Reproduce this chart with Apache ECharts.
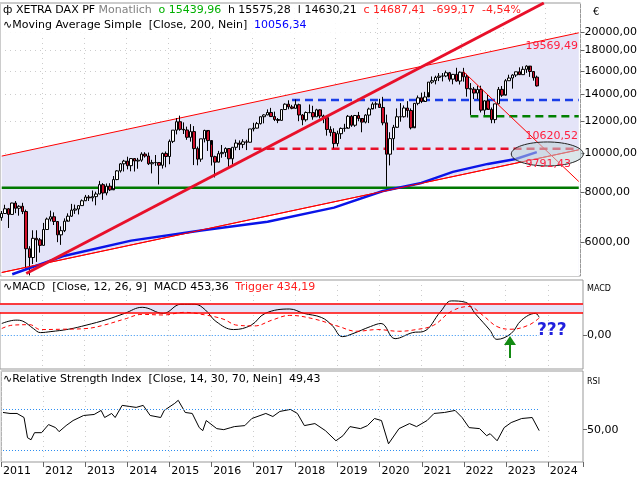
<!DOCTYPE html>
<html lang="de">
<head>
<meta charset="UTF-8">
<title>DAX</title>
<script src="https://cdn.jsdelivr.net/npm/echarts@6/dist/echarts.min.js"></script>
<style>html,body{margin:0;background:#fff}#main{width:640px;height:480px}</style>
</head>
<body>
<div id="main"></div>
<script>
// monthly closes Jan 2011 .. Oct 2023
var closes = [
 7077,7272,7041,7514,7293,7376,7159,5785,5502,6141,6089,5898,
 6458,6856,6947,6761,6264,6416,6772,6970,7216,7261,7405,7612,
 7776,7741,7795,7914,8348,7959,8276,8103,8594,9033,9405,9552,
 9306,9692,9556,9603,9943,9833,9407,9470,9474,9326,9981,9806,
 10694,11402,11966,11454,11414,10945,11309,10259,9660,10850,11382,10743,
 9798,9495,9966,10039,10263,9680,10337,10593,10511,10665,10640,11481,
 11535,11834,12313,12438,12615,12325,12118,12056,12829,13230,13024,12918,
 13189,12436,12097,12612,12605,12306,12806,12364,12247,11447,11257,10559,
 11173,11516,11526,12344,11727,12399,12189,11939,12428,12867,13236,13249,
 12982,11890,9936,10862,11587,12311,12313,12945,12761,11556,13291,13719,
 13433,13786,15008,15136,15421,15531,15544,15835,15261,15688,15100,15885,
 15471,14461,14415,14098,14388,12784,13484,12835,12114,13253,14397,13924,
 15128,15365,15629,15922,15664,16148,16447,15947,15387,14687
];
var highs = [
 7180,7441,7305,7527,7600,7421,7524,7237,5871,6430,6430,6154,
 6708,6914,7194,7125,6764,6574,6882,7084,7478,7447,7412,7672,
 7871,7864,8074,8018,8530,8420,8403,8416,8770,9070,9438,9620,
 9794,9721,9709,9728,10050,10050,10033,9623,9891,9436,10031,10093,
 10810,11402,12219,12391,11920,11634,11802,11670,10380,10850,11430,11300,
 10486,9850,10128,10474,10335,10286,10337,10802,10755,10827,10791,11481,
 11893,11950,12313,12486,12841,12951,12676,12222,12829,13290,13526,13178,
 13597,13264,12502,12689,13205,13107,12886,12845,12458,12390,11658,11525,
 11369,11575,11823,12436,12435,12438,12656,11986,12494,12969,13374,13426,
 13640,13795,12461,11267,11750,12913,13313,13136,13460,12911,13308,13903,
 14131,14197,15008,15502,15568,15803,15810,16030,15912,15725,16290,15953,
 16285,15736,14925,14593,14713,14703,13532,13947,12978,13253,14598,14675,
 15269,15658,15706,15922,16331,16427,16528,16080,15989,15575
];
var lows = [
 6792,7064,6515,7038,7092,6990,7053,5164,4966,5303,5366,5659,
 5900,6464,6766,6627,6007,5915,6363,6831,6938,7063,7039,7405,
 7632,7603,7582,7418,7902,7656,7851,8049,8180,8565,8947,9000,
 9111,9010,9000,9143,9510,9745,9340,8903,9294,8354,9152,9219,
 9382,10590,11129,11366,11154,10789,10676,9338,9325,9512,10631,10123,
 9314,8699,9517,9737,9780,9214,9373,10163,10175,10287,10174,10618,
 11322,11509,11777,11855,12422,12358,12010,11869,12053,12800,12846,12851,
 12905,12002,11727,11975,12558,12104,12310,12195,11865,11051,11009,10279,
 10387,10845,11299,11604,11620,11620,11997,11266,11850,11873,12930,12888,
 12948,11724,8256,9319,10160,11629,11968,12254,12254,11450,11651,13150,
 13310,13529,14162,14867,14816,15097,15070,15440,15059,14819,15046,14800,
 15048,13807,12439,13617,13617,12618,12443,12949,11862,11864,13218,13791,
 13990,15136,14458,15450,15630,15655,15820,15468,15134,14630
];
var firstOpen = 6914;
var lastOpen = 15439.96;

// moving average 200 [monthIndex, value]
var ma200 = [[3,5000],[18,5560],[37,6060],[57,6420],[76,6750],[95,7320],[109,8050],[120,8430],[129,8980],[139,9400],[147,9670],[153,10056]];
// drawn lines [monthIndex, value]
var channelUpper = [[0,9830],[165,19900]];
var channelLower = [[0,5050],[165,10190]];
var trendUp = [[7,5020],[155,23600]];
var trendDown = [[132,15940],[165,8500]];
var levelBlue = 13550, levelBlueFrom = 83;
var levelGreenDash = 12350, levelGreenDashFrom = 134;
var levelRed = 10250, levelRedFrom = 72;
var levelGreen = 8200;
var ellipseCenter = [[155.5, 9950]];

var macd = [[0,300],[4,383],[6,357],[9,175],[11,75],[14,100],[19,158],[24,258],[30,400],[35,550],[40,700],[46,550],[51,775],[55,775],[58,633],[61,350],[66,150],[71,258],[75,550],[82,658],[86,550],[91,450],[94,258],[97,-25],[100,50],[105,225],[108,300],[112,-75],[117,75],[120,100],[125,600],[128,858],[132,825],[135,525],[139,133],[141,-92],[145,50],[148,383],[152,550],[153,453]];
var trigger = [[0,175],[3,258],[8,270],[11,150],[17,158],[24,175],[29,258],[35,410],[40,525],[46,510],[52,575],[58,510],[63,410],[67,258],[72,240],[77,385],[82,500],[89,410],[96,225],[101,108],[107,150],[113,108],[118,150],[123,258],[128,600],[133,720],[137,500],[141,225],[145,158],[150,258],[153,434]];
var macdBand = [575, 800];

var rsi = [[0,67],[2,66],[4,66],[6,62],[7,42],[8,40],[9,47],[11,47],[13,55],[15,52],[16,48],[18,54],[20,59],[23,64],[26,65],[28,69],[29,62],[31,66],[32,62],[34,74],[36,73],[38,72],[40,74],[42,64],[45,62],[46,69],[49,76],[50,79],[52,67],[54,66],[56,52],[57,49],[58,59],[61,51],[63,50],[65,52],[66,53],[69,54],[71,61],[75,66],[77,63],[79,68],[82,70],[84,66],[86,54],[89,56],[92,49],[95,39],[97,44],[99,53],[102,51],[104,54],[106,61],[108,59],[110,36],[113,51],[116,56],[118,53],[121,59],[123,66],[126,67],[129,69],[131,62],[133,52],[136,51],[138,44],[139,46],[141,39],[143,52],[145,57],[148,61],[151,62],[153,49]];

var months = [];
for (var y = 2011; y <= 2024; y++) {
  for (var m = 1; m <= 12; m++) {
    if (y === 2024 && m > 10) break;
    months.push(y + '-' + (m < 10 ? '0' + m : m));
  }
}
var candles = [];
for (var i = 0; i < closes.length; i++) {
  var o = i === 0 ? firstOpen : (i === closes.length - 1 ? lastOpen : closes[i - 1]);
  candles.push([o, closes[i], lows[i], highs[i]]);
}
var last = closes.length - 1;

function isJan(idx) { return months[idx] && months[idx].slice(5) === '01'; }
function fmt(v) { return v.toFixed(2).replace('.', ','); }
var FONT = 'DejaVu Sans';
function xa(gi, showLabel) {
  return {
    type: 'category', gridIndex: gi, data: months, boundaryGap: true,
    axisLine: { show: false },
    axisTick: { show: showLabel, interval: function (i) { return isJan(i); }, length: 5, lineStyle: { color: '#666' } },
    axisLabel: { show: showLabel, interval: function (i) { return isJan(i); }, formatter: function (v) { return v.slice(0, 4); },
      align: 'left', color: '#000', fontFamily: FONT, fontSize: 11, margin: 4 },
    splitLine: { show: true, interval: function (i) { return isJan(i); }, lineStyle: { color: '#ccc', type: [1, 4] } }
  };
}
function lineS(name, data, xi, yi, color, width, type, extra) {
  var s = { type: 'line', name: name, data: data, xAxisIndex: xi, yAxisIndex: yi, symbol: 'none', silent: true, z: 4,
    lineStyle: { color: color, width: width, type: type || 'solid' } };
  for (var k in extra) s[k] = extra[k];
  return s;
}
function hLine(val, from, color, type, width) {
  var d = [];
  for (var i = from; i < months.length; i++) d.push([i, val]);
  return lineS('', d, 0, 0, color, width || 2, type);
}

var chart = echarts.init(document.getElementById('main'));
chart.setOption({
  animation: false,
  textStyle: { fontFamily: FONT },
  grid: [
    { left: 0, right: 57, top: 3, height: 273, show: true, borderColor: '#999', borderWidth: 1 },
    { left: 0, right: 57, top: 280, height: 89, show: true, borderColor: '#999', borderWidth: 1 },
    { left: 0, right: 57, top: 371, height: 91, show: true, borderColor: '#999', borderWidth: 1 }
  ],
  xAxis: [xa(0, false), xa(1, false), xa(2, true)],
  yAxis: [
    { type: 'log', gridIndex: 0, position: 'right', min: 4950, max: 23600, logBase: 10,
      axisLine: { show: false },
      axisTick: { show: true, customValues: [6000, 8000, 10000, 12000, 14000, 16000, 18000, 20000], length: 4, lineStyle: { color: '#666' } },
      axisLabel: { customValues: [6000, 8000, 10000, 12000, 14000, 16000, 18000, 20000], formatter: function (v) { return fmt(v); },
        color: '#000', fontFamily: FONT, fontSize: 11, margin: 4 },
      splitLine: { show: true, lineStyle: { color: '#ccc', type: [1, 4] } } },
    { type: 'value', gridIndex: 1, position: 'right', min: -825, max: 1375,
      axisLine: { show: false },
      axisTick: { show: true, customValues: [0], length: 4, lineStyle: { color: '#666' } },
      axisLabel: { customValues: [0], formatter: function (v) { return fmt(v); }, color: '#000', fontFamily: FONT, fontSize: 11, margin: 4 },
      splitLine: { show: false } },
    { type: 'value', gridIndex: 2, position: 'right', min: 18, max: 108,
      axisLine: { show: false },
      axisTick: { show: true, customValues: [50], length: 4, lineStyle: { color: '#666' } },
      axisLabel: { customValues: [50], formatter: function (v) { return fmt(v); }, color: '#000', fontFamily: FONT, fontSize: 11, margin: 4 },
      splitLine: { show: false } }
  ],
  series: [
    lineS('channelUpper', channelUpper, 0, 0, '#ff0000', 1, 'solid', { z: 1, areaStyle: { color: '#e4e4f8', opacity: 1, origin: 'start' } }),
    lineS('channelLower', channelLower, 0, 0, '#ff0000', 1, 'solid', { z: 1, areaStyle: { color: '#ffffff', opacity: 1, origin: 'start' } }),
    lineS('green', [[0, levelGreen], [months.length - 1, levelGreen]], 0, 0, '#007800', 2.5),
    hLine(levelBlue, levelBlueFrom, '#1a3ee8', [8, 5], 2.5),
    hLine(levelGreenDash, levelGreenDashFrom, '#008000', [8, 5], 2.5),
    hLine(levelRed, levelRedFrom, '#e8102a', [8, 5], 2.5),
    { type: 'candlestick', xAxisIndex: 0, yAxisIndex: 0, data: candles, barWidth: 3, silent: true, z: 5,
      itemStyle: { color: '#ffffff', color0: '#d0102a', borderColor: '#000', borderColor0: '#000', borderWidth: 1 } },
    lineS('ma200', ma200, 0, 0, '#0a14e8', 2.5, 'solid', { z: 6 }),
    lineS('lowerRed', channelLower, 0, 0, '#ff0000', 1, 'solid', { z: 6 }),
    lineS('trendUp', trendUp, 0, 0, '#e8102a', 3, 'solid', { z: 6 }),
    lineS('trendDown', trendDown, 0, 0, '#ff0000', 1, 'solid', { z: 6 }),
    { type: 'custom', xAxisIndex: 0, yAxisIndex: 0, data: ellipseCenter, silent: true, clip: false, z: 7,
      renderItem: function (params, api) {
        var p = api.coord([api.value(0), api.value(1)]);
        return { type: 'ellipse', shape: { cx: p[0], cy: p[1], rx: 36, ry: 12 },
          style: { fill: 'rgba(190,210,215,0.55)', stroke: '#222', lineWidth: 1 } };
      } },
    lineS('macd', macd, 1, 1, '#000', 1, 'solid', {
      smooth: 0.4,
      markArea: { silent: true, itemStyle: { color: '#e4e4f8' }, data: [[{ yAxis: macdBand[0], x: 0 }, { yAxis: macdBand[1], x: 583 }]] },
      markLine: { silent: true, symbol: 'none', label: { show: false }, data: [
        [{ yAxis: macdBand[0], x: 0, lineStyle: { color: '#ff0000', width: 1.5, type: 'solid' } }, { yAxis: macdBand[0], x: 583 }],
        [{ yAxis: macdBand[1], x: 0, lineStyle: { color: '#ff0000', width: 1.5, type: 'solid' } }, { yAxis: macdBand[1], x: 583 }],
        [{ coord: [0, 0], lineStyle: { color: '#2a8cf0', width: 1, type: [1, 2] } }, { coord: [last, 0] }]
      ] } }),
    lineS('trigger', trigger, 1, 1, '#ff0000', 1, [4, 3], { smooth: 0.4 }),
    lineS('rsi', rsi, 2, 2, '#000', 1, 'solid', {
      markLine: { silent: true, symbol: 'none', label: { show: false }, lineStyle: { color: '#2a8cf0', width: 1, type: [1, 2] }, data: [
        [{ coord: [0, 70] }, { coord: [last, 70] }],
        [{ coord: [0, 30] }, { coord: [last, 30] }]
      ] } })
  ],
  graphic: [
    { type: 'rect', shape: { x: 1, y: 4, width: 355, height: 30 }, style: { fill: 'rgba(255,255,255,0.85)' }, z: 50 },
    { type: 'text', left: 3, top: 4, z: 60, style: { rich: {
        a: { fontFamily: FONT, fontSize: 11, fill: '#000' }, g: { fontFamily: FONT, fontSize: 11, fill: '#808080' },
        o: { fontFamily: FONT, fontSize: 11, fill: '#00b000' }, r: { fontFamily: FONT, fontSize: 11, fill: '#ff2020' } },
      text: '{a|ф XETRA DAX PF} {g|Monatlich}  {o|o 15439,96}  {a|h 15575,28  l 14630,21}  {r|c 14687,41  -699,17  -4,54%}' } },
    { type: 'text', left: 3, top: 19, z: 60, style: { rich: {
        a: { fontFamily: FONT, fontSize: 11, fill: '#000' }, b: { fontFamily: FONT, fontSize: 11, fill: '#0000ff' } },
      text: '{a|∿Moving Average Simple  [Close, 200, Nein]}  {b|10056,34}' } },
    { type: 'text', left: 593, top: 7, z: 60, style: { text: '€', font: '10px ' + FONT, fill: '#000' } },
    { type: 'text', right: 62, top: 41, z: 60, style: { text: '19569,49', font: '11px ' + FONT, fill: '#ff2040' } },
    { type: 'text', right: 62, top: 131, z: 60, style: { text: '10620,52', font: '11px ' + FONT, fill: '#ff2040' } },
    { type: 'text', right: 69, top: 159, z: 60, style: { text: '9791,43', font: '11px ' + FONT, fill: '#ff2040' } },
    { type: 'text', left: 3, top: 281, z: 60, style: { rich: {
        a: { fontFamily: FONT, fontSize: 11, fill: '#000' }, r: { fontFamily: FONT, fontSize: 11, fill: '#ff2020' } },
      text: '{a|∿MACD  [Close, 12, 26, 9]  MACD 453,36}  {r|Trigger 434,19}' } },
    { type: 'text', left: 587, top: 285, z: 60, style: { text: 'MACD', font: '8px ' + FONT, fill: '#000' } },
    { type: 'text', left: 537, top: 322, z: 60, style: { text: '???', font: 'bold 17px ' + FONT, fill: '#2020dd' } },
    { type: 'line', z: 60, shape: { x1: 510, y1: 358, x2: 510, y2: 343 }, style: { stroke: '#138a13', lineWidth: 2 } },
    { type: 'polygon', z: 60, shape: { points: [[504, 345], [516, 345], [510, 336]] }, style: { fill: '#138a13' } },
    { type: 'text', left: 3, top: 374, z: 60, style: { rich: { a: { fontFamily: FONT, fontSize: 11, fill: '#000' } },
      text: '{a|∿Relative Strength Index  [Close, 14, 30, 70, Nein]  49,43}' } },
    { type: 'text', left: 587, top: 378, z: 60, style: { text: 'RSI', font: '8px ' + FONT, fill: '#000' } }
  ]
});
</script>
</body>
</html>
